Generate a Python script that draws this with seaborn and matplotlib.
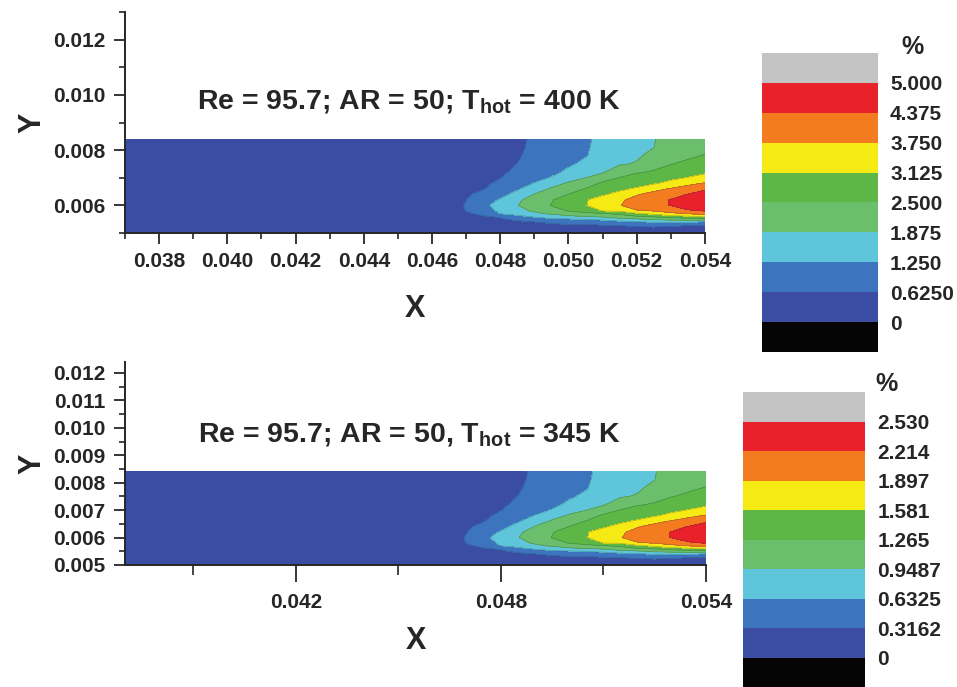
import numpy as np
import matplotlib
matplotlib.use("Agg")
import matplotlib.pyplot as plt
from matplotlib.colors import ListedColormap, BoundaryNorm
from matplotlib.ticker import MultipleLocator
import seaborn as sns

# channel region grid (m)
x_nodes = [0.0370, 0.0450, 0.0465, 0.0470, 0.0475, 0.0480, 0.0485, 0.0490, 0.0495,
           0.0500, 0.0505, 0.0510, 0.0515, 0.0520, 0.0525, 0.0530, 0.0535, 0.0540]
y_nodes = [0.0050, 0.0052, 0.0053, 0.0054, 0.0055, 0.0056, 0.0057, 0.0058, 0.0060, 0.0062,
           0.0064, 0.0066, 0.0068, 0.0070, 0.0072, 0.0075, 0.0078, 0.0081, 0.0084]

# T_hot = 400 K map (%), one list per x node, from y=0.0050 up to y=0.0084
col_0370 = [0.02, 0.04, 0.05, 0.05, 0.05, 0.05, 0.05, 0.05, 0.05, 0.05, 0.05, 0.05, 0.05, 0.05, 0.05, 0.05, 0.05, 0.05, 0.05]
col_0450 = [0.03, 0.10, 0.12, 0.14, 0.15, 0.16, 0.17, 0.18, 0.19, 0.19, 0.18, 0.17, 0.17, 0.16, 0.15, 0.15, 0.14, 0.14, 0.13]
col_0465 = [0.05, 0.18, 0.24, 0.29, 0.33, 0.37, 0.40, 0.43, 0.45, 0.44, 0.41, 0.38, 0.35, 0.33, 0.31, 0.29, 0.27, 0.26, 0.25]
col_0470 = [0.06, 0.22, 0.30, 0.37, 0.44, 0.51, 0.57, 0.63, 0.66, 0.61, 0.56, 0.51, 0.47, 0.43, 0.40, 0.37, 0.34, 0.32, 0.30]
col_0475 = [0.08, 0.30, 0.38, 0.46, 0.53, 0.60, 0.70, 0.90, 1.10, 1.00, 0.75, 0.60, 0.53, 0.48, 0.44, 0.41, 0.38, 0.36, 0.35]
col_0480 = [0.10, 0.35, 0.43, 0.50, 0.58, 0.66, 1.26, 1.38, 1.50, 1.30, 1.05, 0.85, 0.72, 0.61, 0.55, 0.50, 0.46, 0.43, 0.41]
col_0485 = [0.12, 0.40, 0.48, 0.56, 0.70, 1.10, 1.45, 1.70, 1.85, 1.78, 1.45, 1.18, 0.98, 0.84, 0.72, 0.63, 0.57, 0.54, 0.52]
col_0490 = [0.14, 0.45, 0.54, 0.62, 0.95, 1.35, 1.75, 1.95, 2.20, 2.10, 1.90, 1.55, 1.27, 1.08, 0.95, 0.84, 0.77, 0.72, 0.70]
col_0495 = [0.15, 0.48, 0.57, 0.70, 1.15, 1.55, 1.95, 2.30, 2.52, 2.45, 2.20, 1.95, 1.62, 1.28, 1.13, 1.02, 0.96, 0.92, 0.90]
col_0500 = [0.16, 0.50, 0.60, 0.80, 1.20, 1.75, 2.20, 2.52, 2.85, 2.85, 2.51, 2.25, 1.95, 1.65, 1.35, 1.18, 1.10, 1.06, 1.05]
col_0505 = [0.17, 0.52, 0.62, 0.85, 1.27, 1.88, 2.35, 2.70, 3.10, 3.08, 2.75, 2.52, 2.20, 1.87, 1.60, 1.35, 1.22, 1.20, 1.19]
col_0510 = [0.18, 0.54, 0.64, 0.95, 1.40, 2.00, 2.45, 3.13, 3.42, 3.35, 3.05, 2.80, 2.60, 2.20, 1.82, 1.58, 1.45, 1.38, 1.35]
col_0515 = [0.19, 0.56, 0.66, 1.05, 1.70, 2.20, 2.65, 3.20, 3.72, 3.65, 3.30, 3.00, 2.75, 2.52, 2.25, 1.82, 1.68, 1.60, 1.55]
col_0520 = [0.20, 0.58, 0.70, 1.20, 1.80, 2.45, 3.00, 3.70, 4.02, 3.95, 3.70, 3.20, 2.90, 2.72, 2.45, 1.92, 1.80, 1.75, 1.72]
col_0525 = [0.20, 0.60, 0.75, 1.30, 2.00, 2.60, 3.30, 3.77, 4.22, 4.20, 3.95, 3.55, 3.05, 2.80, 2.56, 2.30, 2.02, 1.87, 1.86]
col_0530 = [0.20, 0.55, 0.78, 1.40, 2.10, 2.90, 3.60, 4.00, 4.40, 4.40, 4.15, 3.80, 3.30, 2.98, 2.75, 2.48, 2.28, 2.10, 2.00]
col_0535 = [0.20, 0.45, 0.70, 1.45, 2.15, 3.05, 3.80, 4.30, 4.65, 4.68, 4.40, 4.00, 3.60, 3.15, 2.90, 2.60, 2.42, 2.22, 2.12]
col_0540 = [0.20, 0.45, 0.65, 1.10, 2.30, 3.30, 3.90, 4.40, 4.85, 4.90, 4.60, 4.30, 3.80, 3.30, 3.05, 2.75, 2.53, 2.35, 2.20]

# colour bar levels and labels
levels_400 = [0, 0.625, 1.25, 1.875, 2.5, 3.125, 3.75, 4.375, 5.0]
labels_400 = ["0", "0.6250", "1.250", "1.875", "2.500", "3.125", "3.750", "4.375", "5.000"]
levels_345 = [0, 0.3162, 0.6325, 0.9487, 1.265, 1.581, 1.897, 2.214, 2.530]
labels_345 = ["0", "0.3162", "0.6325", "0.9487", "1.265", "1.581", "1.897", "2.214", "2.530"]

band_colors = ["#3A4DA2", "#3C74BE", "#5FC5DA", "#6BBE6C", "#5CB746",
               "#F6EA14", "#F47C20", "#E8212A"]
under_color = "#050505"
over_color = "#C3C3C3"

conc_400 = np.array([col_0370, col_0450, col_0465, col_0470, col_0475, col_0480,
                     col_0485, col_0490, col_0495, col_0500, col_0505, col_0510,
                     col_0515, col_0520, col_0525, col_0530, col_0535, col_0540]).T
# the 345 K map shows the same pattern on its own colour bar range
conc_345 = conc_400 * (levels_345[-1] / levels_400[-1])

sns.set_theme(style="ticks")
plt.rcParams["font.family"] = ["Liberation Sans", "DejaVu Sans"]
plt.rcParams["font.weight"] = "bold"
plt.rcParams["mathtext.fontset"] = "custom"
plt.rcParams["mathtext.rm"] = "Liberation Sans:bold"
plt.rcParams["mathtext.bf"] = "Liberation Sans:bold"
plt.rcParams["axes.linewidth"] = 1.4

cmap = ListedColormap(band_colors)
cmap.set_under(under_color)
cmap.set_over(over_color)

X, Y = np.meshgrid(x_nodes, y_nodes)

fig = plt.figure(figsize=(9.57, 6.87), dpi=100)
ax1 = fig.add_axes([0.1306, 0.6608, 0.606, 0.3217])
ax2 = fig.add_axes([0.1306, 0.1776, 0.607, 0.2955])
cax1 = fig.add_axes([0.796, 0.4876, 0.121, 0.4353])
cax2 = fig.add_axes([0.7764, 0.0, 0.1275, 0.4294])

panels = [
    (ax1, cax1, conc_400, levels_400, labels_400,
     r"Re = 95.7; AR = 50; T$_{\mathbf{hot}}$ = 400 K", 0.59, 16),
    (ax2, cax2, conc_345, levels_345, labels_345,
     r"Re = 95.7; AR = 50, T$_{\mathbf{hot}}$ = 345 K", 0.64, 10),
]

for ax, cax, z, lev, lab, title, ty, xpad in panels:
    norm = BoundaryNorm(lev, cmap.N)
    cs = ax.contourf(X, Y, z, levels=lev, cmap=cmap, norm=norm, extend="both")
    ax.contour(X, Y, z, levels=lev[1:-1], colors="#1f3d4a", linewidths=0.5, alpha=0.35)
    ax.text(0.49, ty, title, transform=ax.transAxes, ha="center", va="center",
            fontsize=20.5, fontweight="bold")
    ax.set_xlabel("X", fontsize=22, fontweight="bold", labelpad=xpad)
    ax.set_ylabel("Y", fontsize=22, fontweight="bold", labelpad=4)
    ax.tick_params(which="major", length=8, width=1.3, labelsize=15, pad=6, direction="out")
    ax.tick_params(which="minor", length=4.5, width=1.2, direction="out")
    sns.despine(ax=ax)

    cb = fig.colorbar(cs, cax=cax, extendrect=True, extendfrac=0.125)
    cb.set_ticks(lev)
    cb.set_ticklabels(lab)
    cb.outline.set_visible(False)
    cb.ax.tick_params(length=0, pad=9, labelsize=15)

# top map axes
ax1.set_xlim(0.037, 0.054)
ax1.set_ylim(0.005, 0.013)
ax1.set_xticks([0.038, 0.040, 0.042, 0.044, 0.046, 0.048, 0.050, 0.052, 0.054])
ax1.set_xticklabels(["0.038", "0.040", "0.042", "0.044", "0.046", "0.048", "0.050", "0.052", "0.054"])
ax1.xaxis.set_minor_locator(MultipleLocator(0.001))
ax1.set_yticks([0.006, 0.008, 0.010, 0.012])
ax1.set_yticklabels(["0.006", "0.008", "0.010", "0.012"])
ax1.yaxis.set_minor_locator(MultipleLocator(0.001))

# bottom map axes
ax2.set_xlim(0.037, 0.054)
ax2.set_ylim(0.005, 0.0124)
ax2.set_xticks([0.042, 0.048, 0.054])
ax2.set_xticklabels(["0.042", "0.048", "0.054"])
ax2.set_xticks([0.039, 0.045, 0.051], minor=True)
ax2.set_yticks([0.005, 0.006, 0.007, 0.008, 0.009, 0.010, 0.011, 0.012])
ax2.set_yticklabels(["0.005", "0.006", "0.007", "0.008", "0.009", "0.010", "0.011", "0.012"])
ax2.yaxis.set_minor_locator(MultipleLocator(0.0005))
ax2.tick_params(axis="x", which="major", length=12, pad=8)
ax2.tick_params(axis="x", which="minor", length=7)

fig.text(912 / 957, 1 - 47 / 687, "%", ha="center", va="center",
         fontsize=18, fontweight="bold")
fig.text(887 / 957, 1 - 384 / 687, "%", ha="center", va="center",
         fontsize=18, fontweight="bold")

fig.savefig("out.png", dpi=100)
